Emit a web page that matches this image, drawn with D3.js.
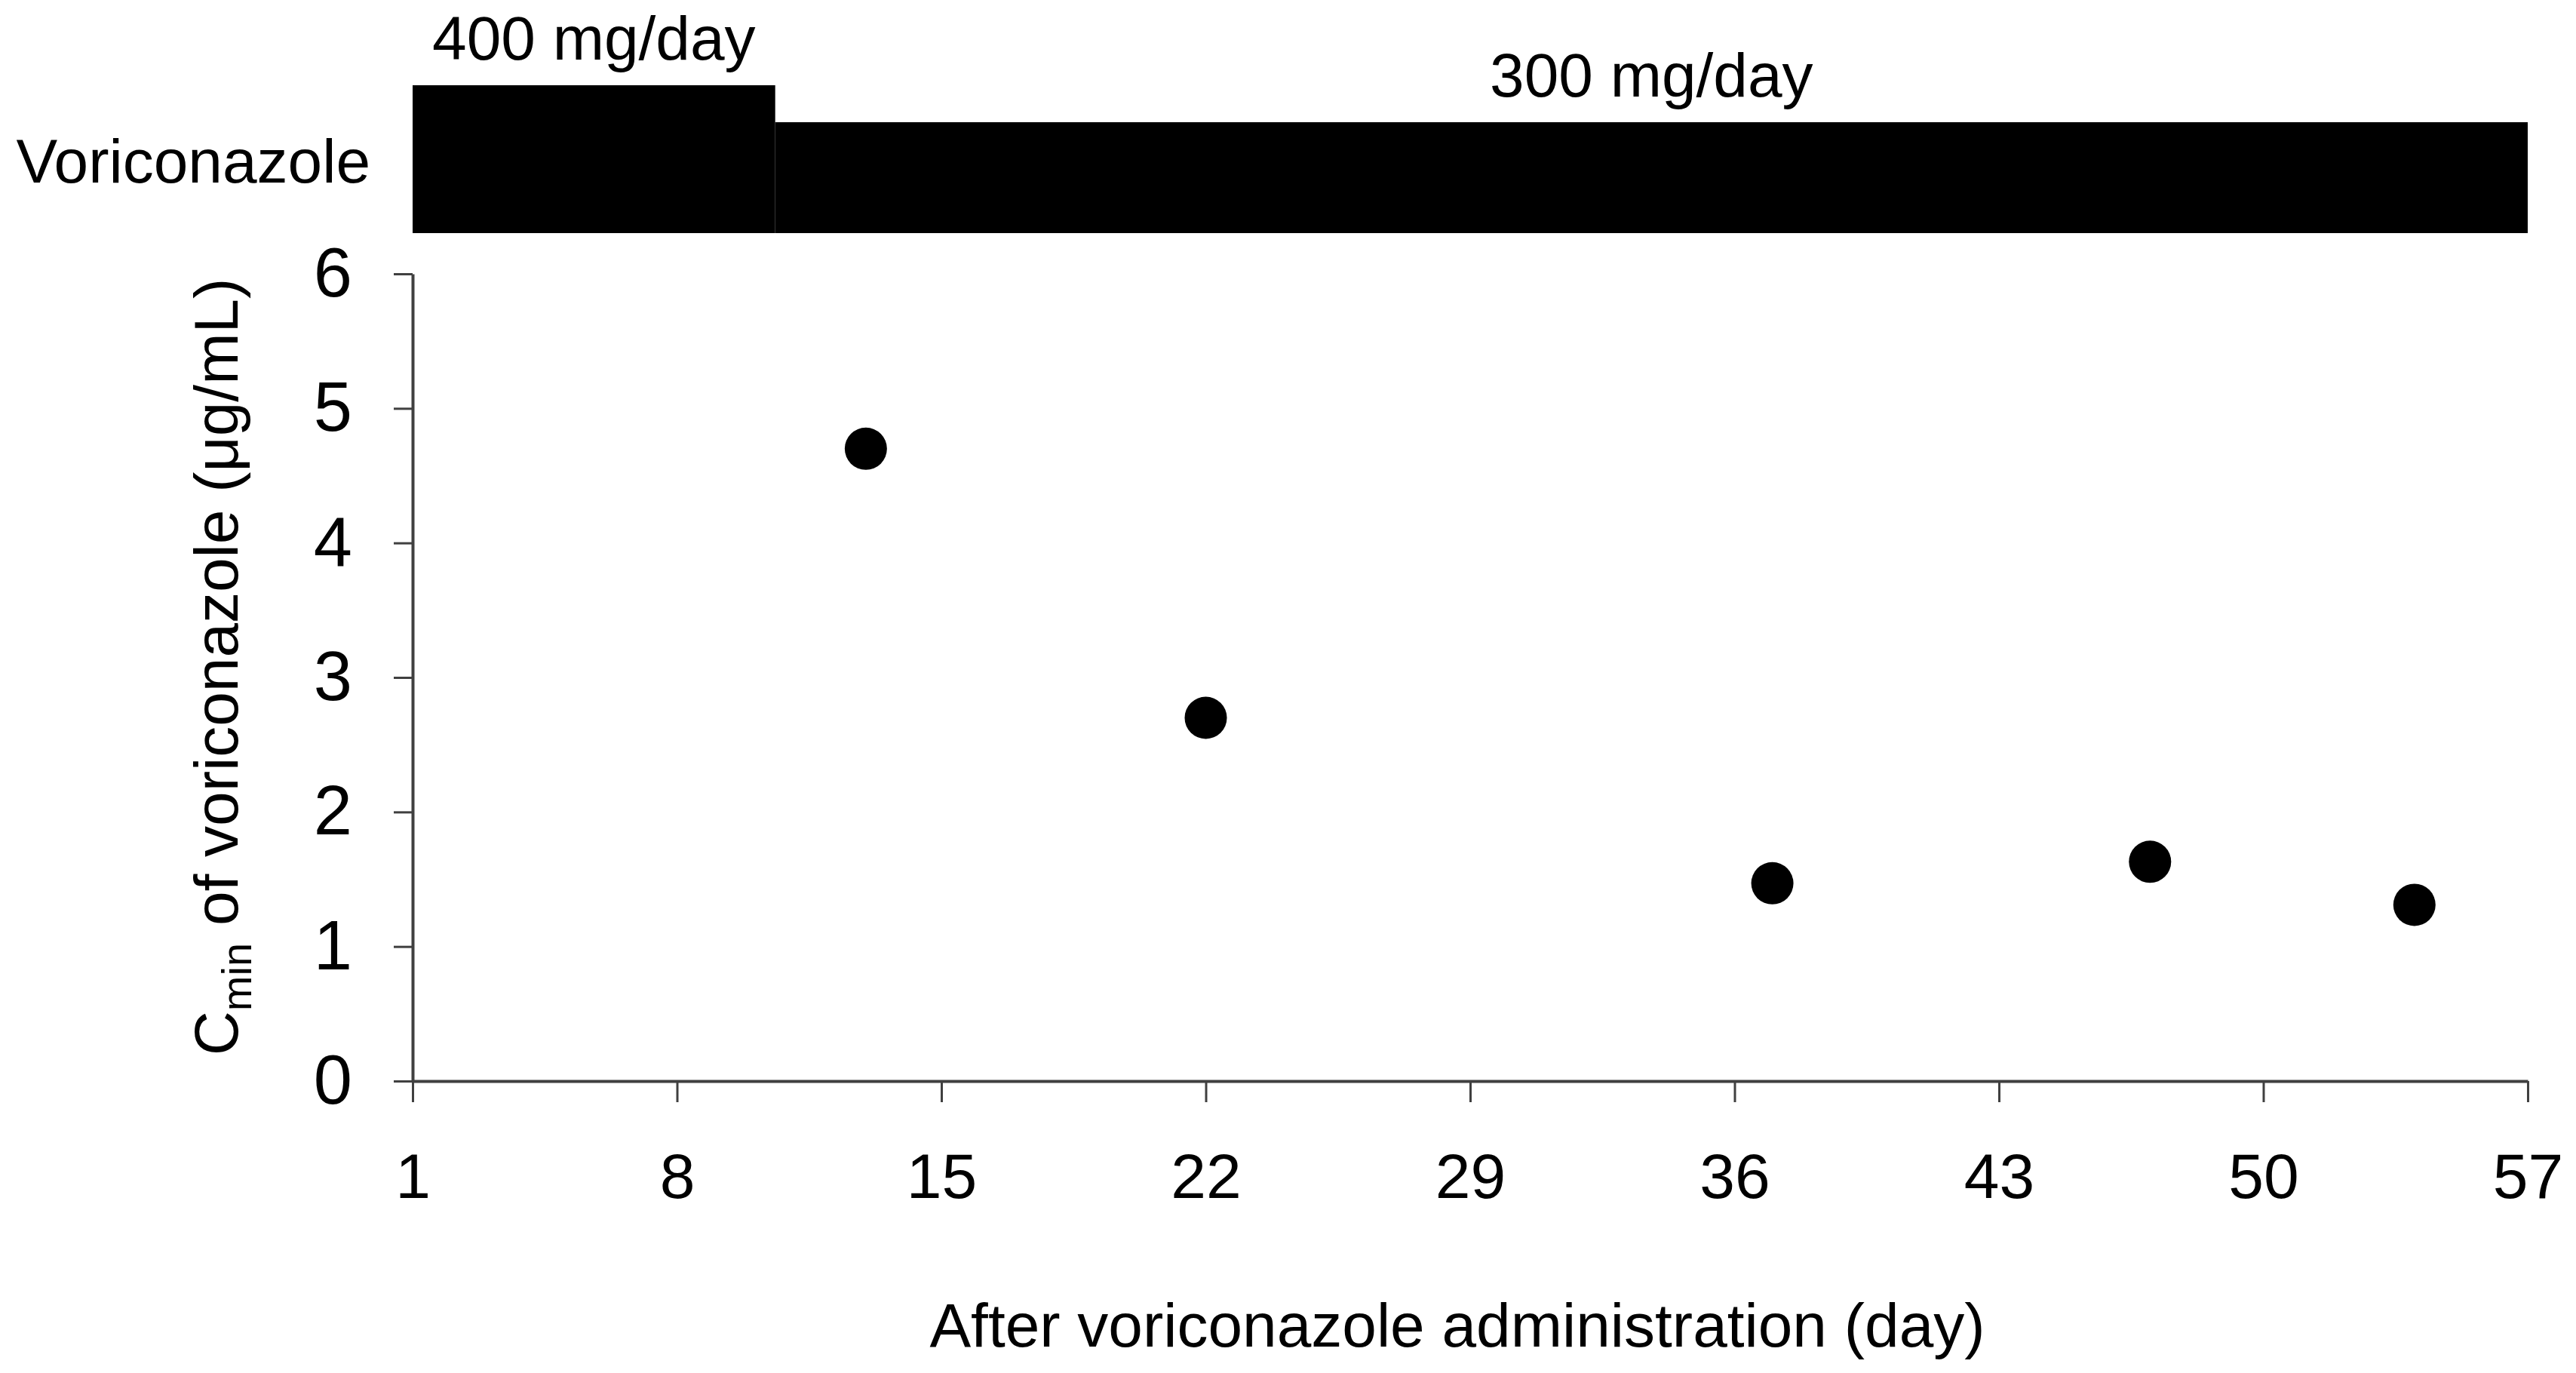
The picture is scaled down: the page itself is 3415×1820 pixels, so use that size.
<!DOCTYPE html>
<html>
<head>
<meta charset="utf-8">
<script src="https://cdn.jsdelivr.net/npm/d3@7"></script>
<style>
  body { margin: 0; background: #fff; }
  text { font-family: "Liberation Sans", Arial, sans-serif; fill: #000; }
</style>
</head>
<body>
<svg id="chart"></svg>
<script>
// sampling days and trough concentrations
const days = [13, 22, 37, 47, 54];
const cmin = [4.7, 2.7, 1.47, 1.63, 1.31];

// dosing regimen (bar heights follow the dose)
const doseStart = [1, 10.6];
const doseEnd = [10.6, 57];
const doseMg = [400, 300];
const doseLabels = ["400 mg/day", "300 mg/day"];

const xTicks = [1, 8, 15, 22, 29, 36, 43, 50, 57];
const yTicks = [0, 1, 2, 3, 4, 5, 6];

const width = 3415, height = 1820;
const fontSize = 82;

const svg = d3.select("#chart")
  .attr("width", width)
  .attr("height", height);

const x = d3.scaleLinear().domain([1, 57]).range([547, 3351]);
const y = d3.scaleLinear().domain([0, 6]).range([1433, 363]);
const doseY = d3.scaleLinear().domain([0, 400]).range([309, 113]);

// dose bars
const doses = doseMg.map((mg, i) => ({
  start: doseStart[i], end: doseEnd[i], mg, label: doseLabels[i]
}));

svg.selectAll("rect.dose")
  .data(doses)
  .enter()
  .append("rect")
  .attr("class", "dose")
  .attr("x", d => x(d.start))
  .attr("width", d => x(d.end) - x(d.start))
  .attr("y", d => doseY(d.mg))
  .attr("height", d => doseY(0) - doseY(d.mg))
  .attr("fill", "#000");

svg.selectAll("text.doseLabel")
  .data(doses)
  .enter()
  .append("text")
  .attr("class", "doseLabel")
  .attr("x", d => (x(d.start) + x(d.end)) / 2)
  .attr("y", d => doseY(d.mg) - 34)
  .attr("text-anchor", "middle")
  .style("font-size", fontSize + "px")
  .text(d => d.label);

svg.append("text")
  .attr("x", 491)
  .attr("y", 242)
  .attr("text-anchor", "end")
  .style("font-size", fontSize + "px")
  .text("Voriconazole");

// axes
const yAxis = d3.axisLeft(y)
  .tickValues(yTicks)
  .tickSize(25)
  .tickSizeOuter(0)
  .tickPadding(55)
  .tickFormat(d3.format("d"));

const gy = svg.append("g")
  .attr("transform", `translate(${x(1)},0)`)
  .call(yAxis);

const xAxis = d3.axisBottom(x)
  .tickValues(xTicks)
  .tickSize(28)
  .tickSizeOuter(0)
  .tickPadding(67)
  .tickFormat(d3.format("d"));

const gx = svg.append("g")
  .attr("transform", `translate(0,${y(0)})`)
  .call(xAxis);

[gx, gy].forEach(g => {
  g.select(".domain").attr("stroke", "#404040").attr("stroke-width", 4);
  g.selectAll(".tick line").attr("stroke", "#404040").attr("stroke-width", 3);
  g.selectAll(".tick text")
    .style("font-family", "'Liberation Sans', Arial, sans-serif")
    .attr("fill", "#000");
});
gy.selectAll(".tick text").style("font-size", "92px");
gx.selectAll(".tick text").style("font-size", "84px");

// points
svg.selectAll("circle.pt")
  .data(days.map((d, i) => ({ day: d, value: cmin[i] })))
  .enter()
  .append("circle")
  .attr("class", "pt")
  .attr("cx", d => x(d.day))
  .attr("cy", d => y(d.value))
  .attr("r", 28)
  .attr("fill", "#000");

// axis titles
svg.append("text")
  .attr("x", 1932)
  .attr("y", 1785)
  .attr("text-anchor", "middle")
  .style("font-size", fontSize + "px")
  .text("After voriconazole administration (day)");

const yTitle = svg.append("text")
  .attr("transform", "translate(315,884) rotate(-90)")
  .attr("text-anchor", "middle")
  .style("font-size", fontSize + "px");
yTitle.append("tspan").text("C");
yTitle.append("tspan")
  .attr("dy", 18)
  .style("font-size", "56px")
  .text("min");
yTitle.append("tspan")
  .attr("dy", -18)
  .text(" of voriconazole (μg/mL)");
</script>
</body>
</html>
